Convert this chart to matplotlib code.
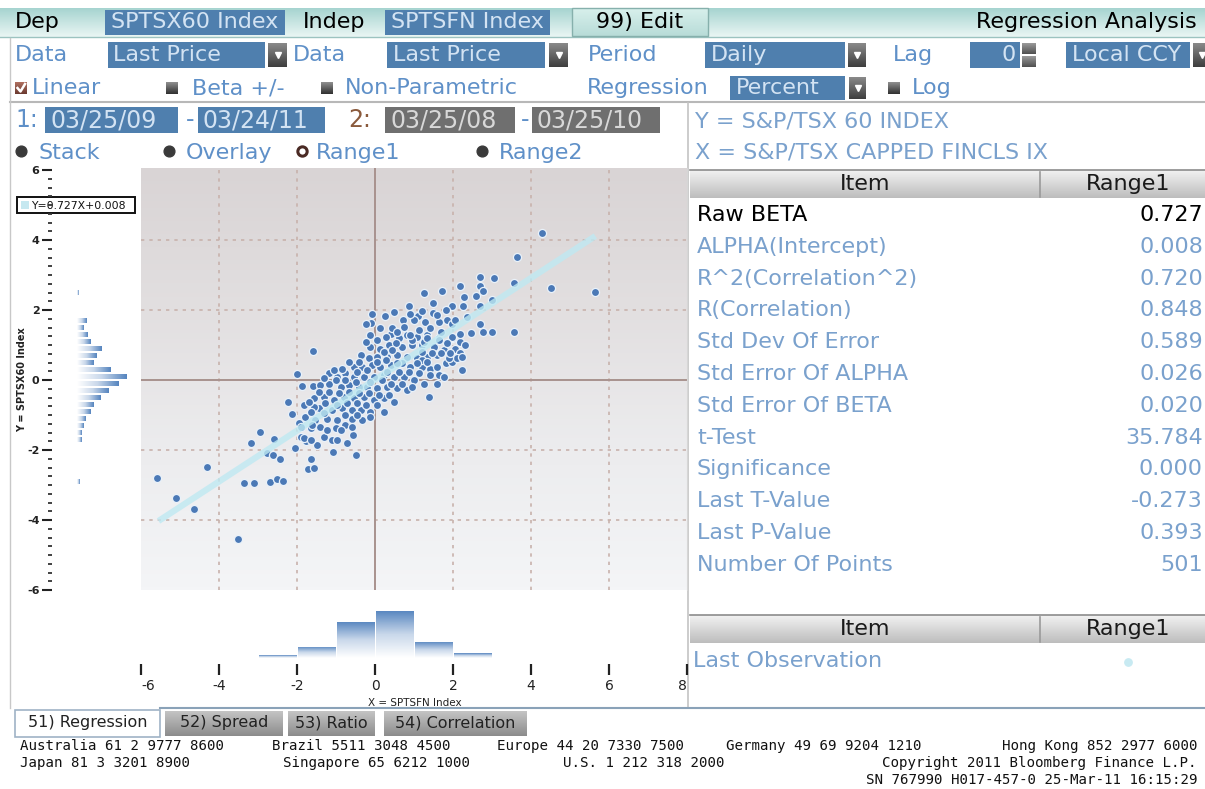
import numpy as np
import matplotlib.pyplot as plt
from matplotlib.patches import Rectangle
from matplotlib.colors import LinearSegmentedColormap

# ---- values ----
slope = 0.727
intercept = 0.008
fit_x = np.array([-5.55, 5.65])

# daily % changes (x = SPTSFN, y = SPTSX60), estimated from the plot
daily_pct = [
    (4.28, 4.19), (3.65, 3.51), (2.70, 2.94), (3.06, 2.92), (3.57, 2.76),
    (4.51, 2.64), (5.64, 2.51), (2.18, 2.70), (2.70, 2.69), (1.73, 2.54),
    (1.25, 2.50), (2.29, 2.38), (2.58, 2.40), (2.78, 2.54), (3.01, 2.30),
    (1.48, 2.21), (1.97, 2.11), (2.25, 2.11), (2.70, 2.11), (0.86, 2.11),
    (-0.08, 1.90), (0.25, 1.83), (-0.11, 1.64), (-0.24, 1.59), (0.71, 1.73),
    (1.11, 1.83), (1.21, 1.97), (1.48, 1.92), (1.84, 1.73), (1.97, 1.59),
    (2.06, 1.73), (2.70, 1.59), (2.47, 1.35), (2.78, 1.37), (3.01, 1.37),
    (3.57, 1.37), (-1.60, 0.83), (-2.01, 0.16), (2.24, 0.29), (1.75, 0.13),
    (1.38, -0.49), (1.59, -0.10), (-1.87, -0.17), (-1.60, -0.17),
    (-2.24, -0.63), (-2.13, -0.98), (-1.94, -1.22), (-2.94, -1.49),
    (-3.19, -1.79), (-2.60, -1.68), (-2.78, -2.08), (-2.62, -2.15),
    (-2.44, -2.25), (-2.05, -1.93), (-1.78, -1.74), (-1.65, -2.27),
    (-1.71, -2.55), (-1.56, -2.50), (-1.08, -2.06), (-0.50, -2.15),
    (-0.56, -1.58), (-4.32, -2.48), (-5.60, -2.79), (-5.09, -3.38),
    (-4.63, -3.68), (-3.37, -2.95), (-3.11, -2.93), (-2.69, -2.91),
    (-2.52, -2.82), (-2.37, -2.89), (-3.52, -4.53),
    (-0.12, 1.29), (0.06, 1.14), (0.40, 1.33), (0.61, 1.19), (0.83, 1.29),
    (1.08, 1.24), (1.34, 1.29), (1.64, 1.19), (1.98, 1.19), (2.19, 1.10),
    (2.32, 1.00), (2.06, 0.90), (1.76, 0.86), (1.51, 0.95), (1.21, 1.00),
    (0.95, 1.00), (0.70, 0.95), (0.35, 1.00), (0.14, 0.90), (-0.12, 0.95),
    (-0.37, 0.71), (-0.16, 0.62), (0.06, 0.67), (0.31, 0.67), (0.57, 0.71),
    (0.83, 0.67), (1.08, 0.62), (1.34, 0.67), (1.59, 0.71), (1.81, 0.48),
    (1.98, 0.52), (1.64, 0.14), (1.76, 0.10), (-0.54, 0.38), (-0.33, 0.38),
    (-0.07, 0.43), (0.14, 0.38), (0.40, 0.43), (0.70, 0.48), (0.91, 0.38),
    (1.21, 0.38), (1.42, 0.33), (-1.18, 0.19), (-0.97, 0.10), (-0.76, 0.19),
    (-0.54, 0.10), (-0.29, 0.10), (-0.03, 0.10), (0.23, 0.14), (0.48, 0.10),
    (0.74, 0.10), (1.00, 0.00), (1.25, -0.10), (-1.40, -0.14), (-1.18, -0.10),
    (-0.88, -0.19), (-0.67, -0.14), (-0.41, -0.19), (-0.20, -0.19),
    (0.06, -0.24), (0.31, -0.19), (0.57, -0.24), (0.83, -0.29),
    (-1.57, -0.52), (-1.31, -0.48), (-1.06, -0.57), (-0.80, -0.48),
    (-0.54, -0.52), (-0.29, -0.48), (-0.03, -0.57), (0.23, -0.52),
    (0.48, -0.62), (-1.83, -0.71), (-1.44, -0.81), (-1.10, -0.86),
    (-0.84, -0.81), (-0.58, -0.86), (-0.37, -0.86), (-0.12, -0.90),
    (0.23, -0.90), (-1.79, -1.05), (-1.53, -1.14), (-1.23, -1.10),
    (-0.97, -1.14), (-0.58, -1.10), (-0.33, -1.14), (-1.65, -1.38),
    (-1.40, -1.33), (-1.01, -1.38), (-0.76, -1.29), (-1.91, -1.62),
    (-1.31, -1.62), (-1.10, -1.71), (-1.48, -1.86), (-1.61, -1.29),
    (-1.82, -1.67), (-1.57, -0.76),
    (1.81, 2.00), (1.00, 1.71), (1.29, 1.67), (1.64, 1.67), (0.44, 1.48),
    (0.74, 1.52), (1.12, 1.43), (1.42, 1.48), (1.68, 1.38), (1.98, 1.24),
    (2.19, 1.33), (2.19, 0.76), (2.11, 0.62), (1.89, 0.62), (1.68, 0.76),
    (1.21, 0.57),
    (0.27, 1.24), (0.95, 1.14), (1.25, 1.10), (1.85, 1.05), (-0.24, 1.10),
    (0.53, 1.05), (0.23, 0.81), (0.44, 0.86), (1.21, 0.81), (1.47, 0.76),
    (1.93, 0.76), (2.23, 0.67), (-0.67, 0.52), (-0.41, 0.52), (-0.20, 0.29),
    (0.06, 0.52), (0.27, 0.57), (0.57, 0.48), (1.08, 0.48), (1.34, 0.52),
    (1.59, 0.38), (-1.06, 0.29), (-0.84, 0.33), (-0.46, 0.24), (0.31, 0.24),
    (0.61, 0.24), (0.87, 0.24), (1.12, 0.19), (1.42, 0.14), (-1.31, 0.05),
    (-1.01, 0.00), (-0.76, 0.00), (-0.50, -0.05), (-0.12, -0.05),
    (0.18, 0.00), (0.40, -0.10), (0.70, -0.10), (0.95, -0.19),
    (-1.44, -0.33), (-1.18, -0.33), (-0.93, -0.38), (-0.67, -0.33),
    (-0.41, -0.38), (-0.16, -0.38), (0.10, -0.43), (0.35, -0.43),
    (-1.70, -0.62), (-1.27, -0.67), (-0.97, -0.71), (-0.71, -0.67),
    (-0.46, -0.67), (-0.24, -0.71), (0.06, -0.71), (-1.65, -0.90),
    (-1.31, -0.95), (-0.76, -1.00), (-0.46, -1.00), (-0.12, -1.05),
    (-1.91, -1.33), (-1.23, -1.43), (-0.88, -1.43), (-0.58, -1.33),
    (-1.65, -1.71), (-0.97, -1.71), (-0.71, -1.81),
    (0.48, 1.95), (0.91, 1.90), (1.59, 1.86), (2.36, 1.81), (0.14, 1.48),
    (0.57, 1.38), (0.91, 1.29), (1.34, 1.19), (1.64, 1.14),
]

# bottom histogram of x (bin left edges, width 1)
x_bin_left = [-3, -2, -1, 0, 1, 2]
x_counts = [11, 47, 154, 199, 68, 21]

# side histogram of y (bin centres, width 0.2)
y_bin_mid = [2.5, 1.7, 1.5, 1.3, 1.1, 0.9, 0.7, 0.5, 0.3, 0.1,
             -0.1, -0.3, -0.5, -0.7, -0.9, -1.1, -1.3, -1.5, -1.7, -2.9]
y_counts = [2, 14, 10, 15, 20, 37, 29, 25, 49, 74,
            62, 47, 35, 25, 20, 12, 10, 7, 6, 4]

stat_items = ['Raw BETA', 'ALPHA(Intercept)', 'R^2(Correlation^2)',
              'R(Correlation)', 'Std Dev Of Error', 'Std Error Of ALPHA',
              'Std Error Of BETA', 't-Test', 'Significance', 'Last T-Value',
              'Last P-Value', 'Number Of Points']
stat_values = ['0.727', '0.008', '0.720', '0.848', '0.589', '0.026', '0.020',
               '35.784', '0.000', '-0.273', '0.393', '501']

# footer: (x, y, text, align)
footer = [
    (20, 746, 'Australia 61 2 9777 8600', 'left'),
    (272, 746, 'Brazil 5511 3048 4500', 'left'),
    (497, 746, 'Europe 44 20 7330 7500', 'left'),
    (726, 746, 'Germany 49 69 9204 1210', 'left'),
    (1197, 746, 'Hong Kong 852 2977 6000', 'right'),
    (20, 763, 'Japan 81 3 3201 8900', 'left'),
    (283, 763, 'Singapore 65 6212 1000', 'left'),
    (563, 763, 'U.S. 1 212 318 2000', 'left'),
    (1197, 763, 'Copyright 2011 Bloomberg Finance L.P.', 'right'),
    (1197, 780, 'SN 767990 H017-457-0 25-Mar-11 16:15:29', 'right'),
]

BLUE_BOX = '#4f7fae'
BOX_TXT = '#d3e3f3'
LABEL = '#5f90c8'
ITEM = '#7aa1cd'

W, H = 1205, 789
fig = plt.figure(figsize=(W / 100, H / 100), dpi=100)
fig.patch.set_facecolor('white')

# screen furniture is drawn in pixel coordinates on a full-figure axes
ui = fig.add_axes([0, 0, 1, 1])
ui.set_xlim(0, W)
ui.set_ylim(H, 0)
ui.axis('off')


def rect(x0, y0, x1, y1, fc, ec='none', lw=0, z=2):
    ui.add_patch(Rectangle((x0, y0), x1 - x0, y1 - y0, facecolor=fc,
                           edgecolor=ec, lw=lw, zorder=z))


def txt(x, y, s, c='black', size=16, ha='left', **kw):
    ui.text(x, y, s, color=c, fontsize=size, ha=ha, va='center', zorder=5, **kw)


def vgrad(x0, y0, x1, y1, colors, z=1):
    cmap = LinearSegmentedColormap.from_list('g', colors)
    ui.imshow(np.linspace(0, 1, 64)[:, None], extent=[x0, x1, y1, y0],
              cmap=cmap, aspect='auto', zorder=z)


def drop(x0, y0, x1, y1):
    vgrad(x0, y0, x1, y1, ['#8a8a8a', '#3e3e3e'], z=3)
    ui.plot((x0 + x1) / 2, (y0 + y1) / 2, marker='v', ms=5, color='white',
            zorder=4)


def square(x, y, fc):
    vgrad(x, y - 6, x + 12, y + 6, ['#909090', fc], z=3)


def fig_axes(x0, y0, x1, y1):
    return fig.add_axes([x0 / W, 1 - y1 / H, (x1 - x0) / W, (y1 - y0) / H])


# ---- header rows ----
vgrad(0, 8, W, 37, ['#a6d4d0', '#eaf6f4'])
ui.plot([0, W], [37, 37], color='#9cc3c0', lw=1, zorder=3)
txt(15, 22, 'Dep')
rect(105, 10, 285, 35, BLUE_BOX)
txt(111, 22, 'SPTSX60 Index', BOX_TXT)
txt(303, 22, 'Indep')
rect(385, 10, 550, 35, BLUE_BOX)
txt(391, 22, 'SPTSFN Index', BOX_TXT)
vgrad(572, 8, 708, 36, ['#d8f0ec', '#b8dcd8'], z=2)
rect(572, 8, 708, 36, 'none', ec='#86b0ac', lw=1, z=3)
txt(640, 22, '99) Edit', ha='center')
txt(1197, 22, 'Regression Analysis', ha='right')

txt(15, 55, 'Data', LABEL)
rect(108, 42, 265, 68, BLUE_BOX)
txt(113, 55, 'Last Price', BOX_TXT)
drop(268, 43, 287, 67)
txt(293, 55, 'Data', LABEL)
rect(387, 42, 545, 68, BLUE_BOX)
txt(393, 55, 'Last Price', BOX_TXT)
drop(549, 43, 568, 67)
txt(588, 55, 'Period', LABEL)
rect(705, 42, 845, 68, BLUE_BOX)
txt(711, 55, 'Daily', BOX_TXT)
drop(848, 43, 866, 67)
txt(893, 55, 'Lag', LABEL)
rect(970, 42, 1020, 68, BLUE_BOX)
txt(1016, 55, '0', BOX_TXT, ha='right')
vgrad(1022, 43, 1036, 54, ['#9a9a9a', '#505050'], z=3)
vgrad(1022, 56, 1036, 67, ['#9a9a9a', '#505050'], z=3)
rect(1066, 42, 1190, 68, BLUE_BOX)
txt(1072, 55, 'Local CCY', BOX_TXT)
drop(1193, 43, 1211, 67)

# checkbox / toggles
vgrad(15, 82, 27, 94, ['#b07060', '#6a3a30'], z=3)
ui.plot([17.5, 20.5, 25], [88, 91.5, 84], color='white', lw=1.8, zorder=4)
txt(32, 88, 'Linear', LABEL)
square(166, 88, '#303030')
txt(192, 88, 'Beta +/-', LABEL)
square(321, 88, '#303030')
txt(345, 88, 'Non-Parametric', LABEL)
txt(587, 88, 'Regression', LABEL)
rect(730, 76, 845, 100, BLUE_BOX)
txt(736, 88, 'Percent', BOX_TXT)
drop(849, 77, 866, 99)
square(888, 88, '#303030')
txt(912, 88, 'Log', LABEL)
ui.plot([10, W], [102, 102], color='#b8b8b8', lw=1.5, zorder=3)
ui.plot([10, 10], [38, 708], color='#c8c8c8', lw=1, zorder=3)

# date ranges
txt(15, 120, '1:', LABEL, size=17)
rect(45, 107, 178, 133, BLUE_BOX)
txt(51, 120, '03/25/09', BOX_TXT, size=17)
txt(186, 120, '-', LABEL, size=17)
rect(198, 107, 325, 133, BLUE_BOX)
txt(203, 120, '03/24/11', BOX_TXT, size=17)
txt(348, 120, '2:', '#8a5a3c', size=17)
rect(385, 107, 515, 133, '#6f6f6f')
txt(390, 120, '03/25/08', '#d8d8d8', size=17)
txt(521, 120, '-', LABEL, size=17)
rect(532, 107, 660, 133, '#6f6f6f')
txt(537, 120, '03/25/10', '#d8d8d8', size=17)

# radio buttons
for rx, lab in [(21, 'Stack'), (169, 'Overlay'), (482, 'Range2')]:
    ui.scatter([rx], [151], s=60, c='#3a3a3a', zorder=4)
    txt(rx + 17, 153, lab, LABEL)
ui.scatter([302], [151], s=45, c='white', edgecolors='#4a2a24',
           linewidths=2.2, zorder=4)
txt(316, 153, 'Range1', LABEL)

# right panel
ui.plot([688, 688], [103, 708], color='#c4c4c4', lw=1.2, zorder=3)
txt(695, 121, 'Y = S&P/TSX 60 INDEX', ITEM)
txt(695, 152, 'X = S&P/TSX CAPPED FINCLS IX', ITEM)
for top in (170, 615):
    vgrad(690, top, W, top + 28, ['#f2f2f2', '#bdbdbd'], z=2)
    ui.plot([690, W], [top, top], color='#8c8c8c', lw=1.2, zorder=3)
    ui.plot([1040, 1040], [top + 2, top + 27], color='#9a9a9a', lw=1.2,
            zorder=3)
    txt(865, top + 14, 'Item', '#1a1a1a', ha='center')
    txt(1128, top + 14, 'Range1', '#1a1a1a', ha='center')
for i, (item, val) in enumerate(zip(stat_items, stat_values)):
    y = 215 + i * 31.8
    col = 'black' if i == 0 else ITEM
    txt(697, y, item, col)
    txt(1203, y, val, col, ha='right')
txt(693, 661, 'Last Observation', ITEM)
ui.scatter([1128], [662], s=28, c='#c8eaf2', zorder=4)

# legend box of the fit
rect(17, 197, 135, 213, 'white', ec='#111111', lw=1.4, z=3)
rect(21, 201, 29, 209, '#c6e8f0', z=4)
txt(31, 205.5, 'Y=0.727X+0.008', '#111111', size=7.8)
ui.text(22, 380, 'Y = SPTSX60 Index', rotation=90, ha='center', va='center',
        fontsize=7, fontweight='bold', color='#222222', zorder=5)
txt(415, 703, 'X = SPTSFN Index', '#222222', size=7.5, ha='center')

# tabs and footer
ui.plot([160, W], [708, 708], color='#8aa2b8', lw=1.5, zorder=3)
rect(15, 710, 160, 737, 'white', ec='#9fb3c6', lw=1.2, z=3)
txt(88, 723, '51) Regression', '#222222', size=11.5, ha='center')
for x0, x1, lab in [(165, 283, '52) Spread'), (288, 375, '53) Ratio'),
                    (384, 527, '54) Correlation')]:
    vgrad(x0, 711, x1, 736, ['#c4c4c4', '#8c8c8c'], z=2)
    txt((x0 + x1) / 2, 723, lab, '#222222', size=11.5, ha='center')
for fx, fy, s, al in footer:
    ui.text(fx, fy, s, fontsize=10.2, family='DejaVu Sans Mono', ha=al,
            va='center', color='#111111', zorder=5)
ui.set_xlim(0, W)
ui.set_ylim(H, 0)

# ---- scatter ----
pts = np.array(daily_pct)
ax = fig_axes(141, 168, 687, 590)
bg = LinearSegmentedColormap.from_list('bg', ['#f4f5f7', '#ececee', '#e2dfe0',
                                              '#d9d4d5'])
ax.imshow(np.linspace(0, 1, 128)[:, None], extent=[-6, 8, -6, 6.06],
          origin='lower', cmap=bg, aspect='auto', zorder=0)
for gx in (-4, -2, 2, 4, 6):
    ax.axvline(gx, color='#c8b2ac', lw=1.2, ls=(0, (2, 3)), zorder=1)
for gy in (-4, -2, 2, 4):
    ax.axhline(gy, color='#c8b2ac', lw=1.2, ls=(0, (2, 3)), zorder=1)
ax.axvline(0, color='#a8928e', lw=1.4, zorder=1)
ax.axhline(0, color='#a8928e', lw=1.4, zorder=1)
ax.scatter(pts[:, 0], pts[:, 1], s=34, c='#4b79b6', edgecolors='#eaf2fa',
           linewidths=0.9, zorder=4)
ax.plot(fit_x, slope * fit_x + intercept, color='#bfe9f2', lw=4.5, alpha=0.8,
        solid_capstyle='butt', zorder=5)
ax.set_xlim(-6, 8)
ax.set_ylim(-6, 6.06)
ax.set_xticks([])
ax.set_yticks([])
for s in ax.spines.values():
    s.set_visible(False)
ax.spines['right'].set_visible(True)
ax.spines['right'].set_color('#d6d6d6')

blue_fade = LinearSegmentedColormap.from_list('bf', ['#ffffff', '#c8d7ea',
                                                     '#5685bf'])


def fill_gradient(a, bars, horizontal):
    for b in bars:
        x0, y0 = b.get_x(), b.get_y()
        w, h = b.get_width(), b.get_height()
        g = np.linspace(0, 1, 64)
        g = g[None, :] if horizontal else g[:, None]
        im = a.imshow(g, extent=[x0, x0 + w, y0, y0 + h], origin='lower',
                      cmap=blue_fade, aspect='auto', zorder=2)
        im.set_clip_path(b)


# ---- side histogram of y ----
axl = fig_axes(52, 168, 137, 590)
hb = axl.barh(y_bin_mid, y_counts, height=0.13, left=0, color='none')
fill_gradient(axl, hb, True)
axl.set_xlim(-37, 88.8)
axl.set_ylim(-6, 6.06)
axl.set_yticks(np.arange(-6, 7, 2))
axl.set_yticklabels([str(v) for v in range(-6, 7, 2)], fontsize=8,
                    fontweight='bold')
axl.set_yticks(np.arange(-6, 6.01, 0.25), minor=True)
axl.tick_params(axis='y', which='major', length=7, width=1.5, pad=2,
                colors='#222222')
axl.tick_params(axis='y', which='minor', length=3, width=1.3,
                colors='#333333')
axl.set_xticks([])
for s in axl.spines.values():
    s.set_color('none')
axl.patch.set_alpha(0)

# ---- bottom histogram of x ----
axb = fig_axes(141, 600, 687, 658)
vb = axb.bar([v + 0.5 for v in x_bin_left], x_counts, width=0.95,
             color='none')
fill_gradient(axb, vb, False)
axb.set_xlim(-6, 8)
axb.set_ylim(0, 245)
axb.set_xticks(np.arange(-6, 9, 2))
axb.set_xticklabels([str(v) for v in range(-6, 9, 2)], fontsize=8,
                    fontweight='bold')
axb.set_yticks([])
for s in axb.spines.values():
    s.set_color('none')
axb.spines['bottom'].set_position(('outward', 4))
axb.tick_params(axis='x', length=8, width=1.6, pad=3, colors='#222222')
for t in axb.xaxis.get_major_ticks():
    if t.get_loc() in (-6, 8):
        t.tick1line.set_visible(False)
labels = axb.get_xticklabels()
labels[0].set_horizontalalignment('left')
labels[-1].set_horizontalalignment('right')
axb.patch.set_alpha(0)

fig.savefig('out.png', dpi=100)
